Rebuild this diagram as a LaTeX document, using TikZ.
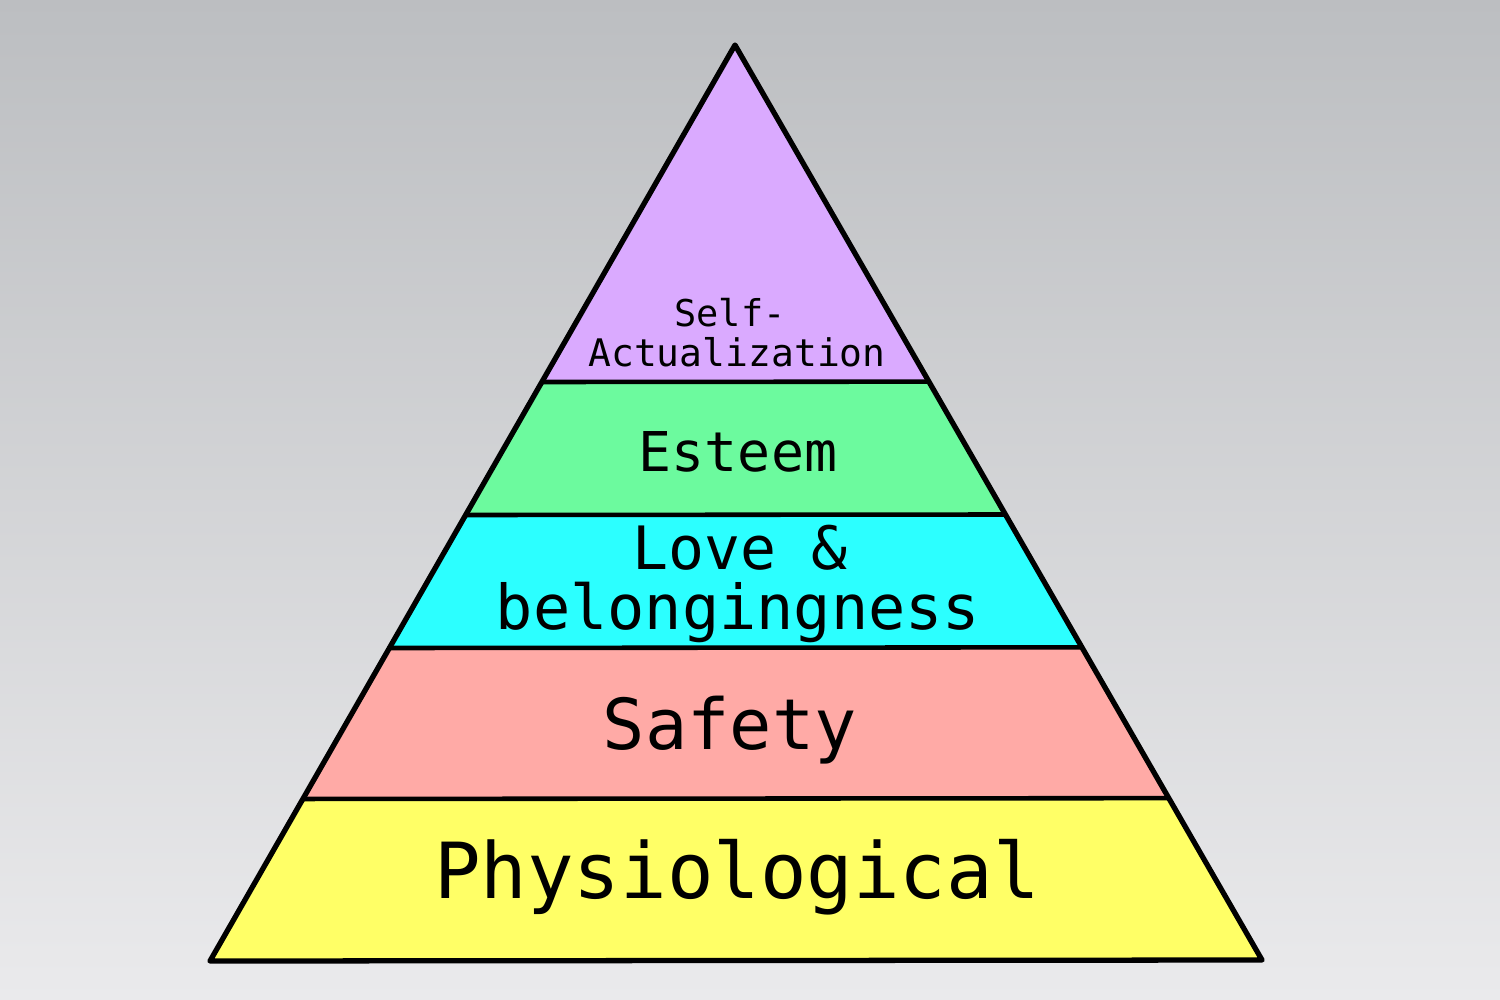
\documentclass[tikz,border=0pt]{standalone}
\usepackage{fontspec}
\setmainfont{DejaVu Sans Mono}
\usetikzlibrary{calc}
\definecolor{bgtop}{RGB}{188,190,193}
\definecolor{bgbot}{RGB}{234,234,236}
\definecolor{lvpurple}{RGB}{218,170,255}
\definecolor{lvgreen}{RGB}{108,250,158}
\definecolor{lvcyan}{RGB}{44,255,255}
\definecolor{lvpink}{RGB}{255,170,166}
\definecolor{lvyellow}{RGB}{255,255,102}
\tikzset{
  edgeline/.style={line width=1.5pt, line join=round},
  divider/.style={line width=1.3pt, line cap=round},
  lbl/.style={text=black, inner sep=0pt, align=center}
}
\begin{document}
\begin{tikzpicture}[x=0.01cm, y=-0.01cm]
\useasboundingbox (0,0) rectangle (1500,1000);
\shade[top color=bgtop, bottom color=bgbot] (0,0) rectangle (1500,1000);
\coordinate (A) at (735,45);
\coordinate (L) at (210,961);
\coordinate (R) at (1262,960);
\begin{scope}
  \clip (A) -- (L) -- (R) -- cycle;
  \fill[lvpurple] (0,0) rectangle (1500,382);
  \fill[lvgreen] (0,382) rectangle (1500,515);
  \fill[lvcyan] (0,515) rectangle (1500,648);
  \fill[lvpink] (0,648) rectangle (1500,799);
  \fill[lvyellow] (0,799) rectangle (1500,1000);
\end{scope}
\coordinate (l1) at ($(A)!0.3679!(L)$); \coordinate (r1) at ($(A)!0.3679!(R)$);
\coordinate (l2) at ($(A)!0.5131!(L)$); \coordinate (r2) at ($(A)!0.5131!(R)$);
\coordinate (l3) at ($(A)!0.6583!(L)$); \coordinate (r3) at ($(A)!0.6583!(R)$);
\coordinate (l4) at ($(A)!0.8231!(L)$); \coordinate (r4) at ($(A)!0.8231!(R)$);
\draw[divider] (l1) -- (r1);
\draw[divider] (l2) -- (r2);
\draw[divider] (l3) -- (r3);
\draw[divider] (l4) -- (r4);
\draw[edgeline] (A) -- (L) -- (R) -- cycle;
\node[lbl, font=\fontsize{10.5}{12}\selectfont] (self) at (730,313) {Self-};
\node[lbl, font=\fontsize{10.8}{12}\selectfont] (act) at (737,352) {Actualization};
\node[lbl, font=\fontsize{15.6}{18}\selectfont] (est) at (738,452) {Esteem};
\node[lbl, font=\fontsize{17}{20}\selectfont] (love) at (740,548) {Love \&};
\node[lbl, font=\fontsize{17.6}{20}\selectfont] (bel) at (738,612) {belongingness};
\node[lbl, font=\fontsize{20}{24}\selectfont] (saf) at (730,730) {Safety};
\node[lbl, font=\fontsize{22}{26}\selectfont] (phy) at (737,877) {Physiological};
\end{tikzpicture}
\end{document}
